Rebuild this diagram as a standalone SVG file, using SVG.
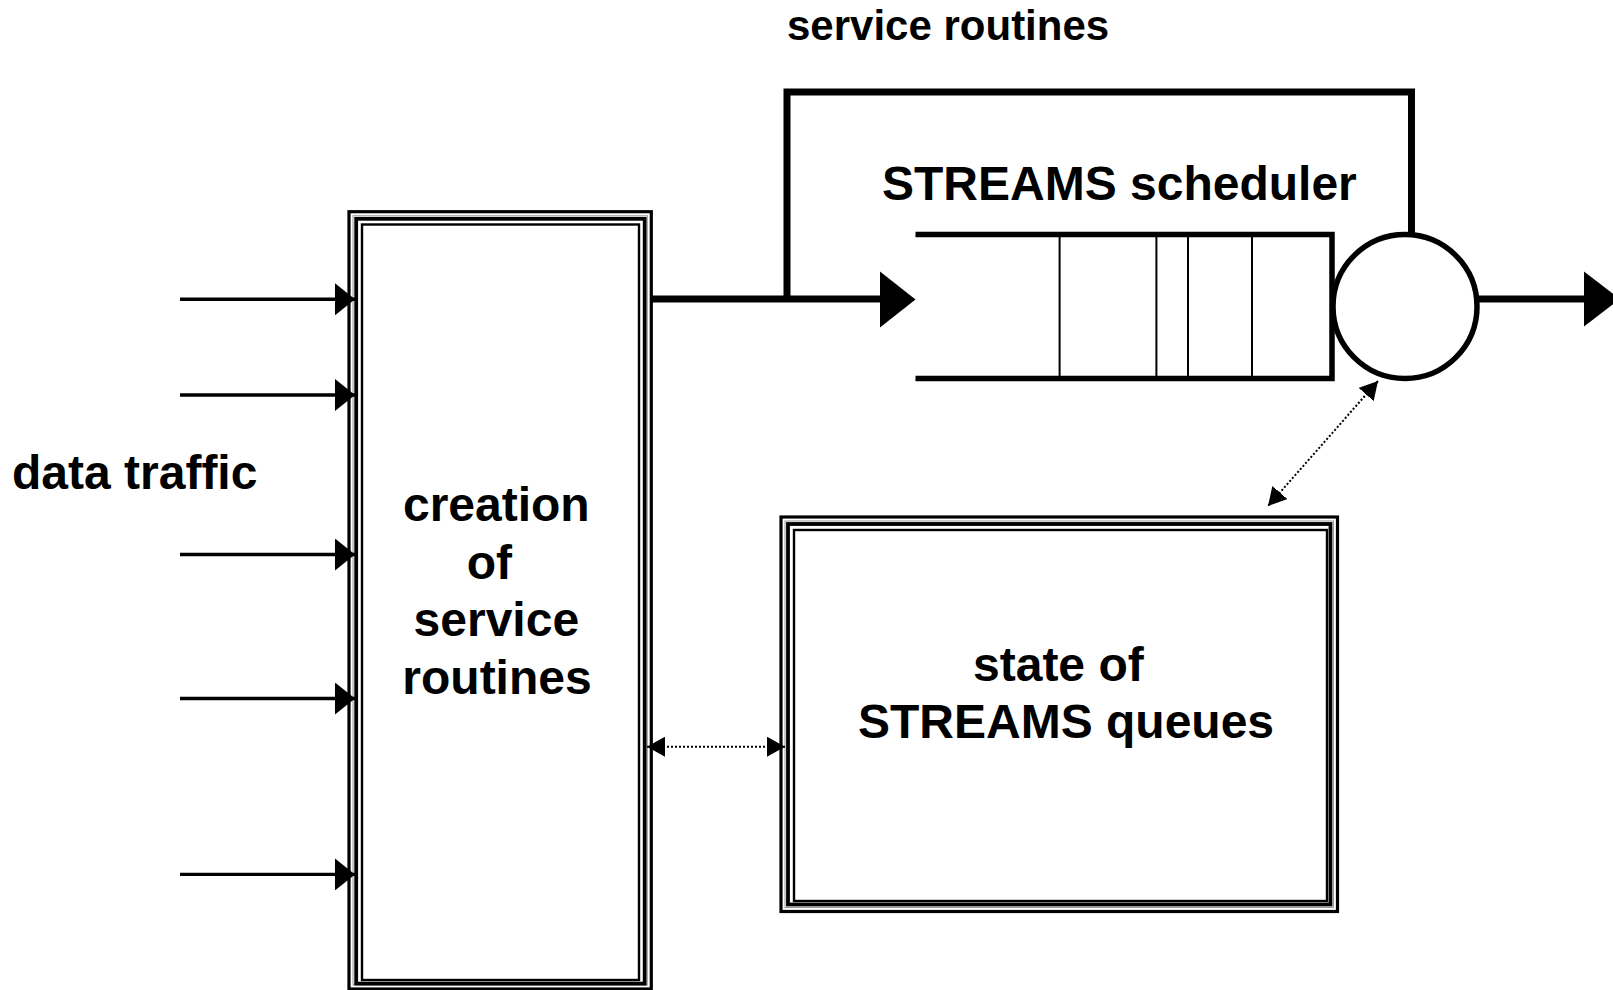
<svg xmlns="http://www.w3.org/2000/svg" width="1613" height="990" viewBox="0 0 1613 990">
  <style>
    .lbl { font-family: "Liberation Sans", Arial, Helvetica, sans-serif; font-weight: bold; fill: #000; }
    .big { font-size: 48px; }
    .mid { font-size: 42px; }
    .b-out { fill: none; stroke: #000; stroke-width: 3.2; }
    .b-gray { fill: none; stroke: #9a9a9a; stroke-width: 1; }
    .b-mid { fill: none; stroke: #000; stroke-width: 3.8; }
    .b-in { fill: none; stroke: #000; stroke-width: 2.4; }
    .thick { fill: none; stroke: #000; stroke-width: 7; }
    .input { fill: none; stroke: #000; stroke-width: 3.4; }
    .queue { fill: none; stroke: #000; stroke-width: 5.5; }
    .slot { fill: none; stroke: #000; stroke-width: 2; }
    .dots { fill: none; stroke: #000; stroke-width: 2; stroke-dasharray: 2 2; }
    .head { fill: #000; stroke: none; }
  </style>
  <defs>
    <marker id="small-head" viewBox="0 0 18 20" refX="18" refY="10" markerWidth="18" markerHeight="20" markerUnits="userSpaceOnUse" orient="auto-start-reverse">
      <path d="M0,0 L18,10 L0,20 Z" fill="#000"/>
    </marker>
    <marker id="in-head" viewBox="0 0 20 32" refX="20" refY="16" markerWidth="20" markerHeight="32" markerUnits="userSpaceOnUse" orient="auto">
      <path d="M0,0 L20,16 L0,32 Z" fill="#000"/>
    </marker>
  </defs>

  <rect width="1613" height="990" fill="#fff"/>

  <!-- free-standing labels -->
  <text class="lbl mid" x="787" y="40">service routines</text>
  <text class="lbl big" x="12" y="488.5">data traffic</text>

  <!-- node: creation of service routines -->
  <g id="creation">
    <rect class="b-out" x="349" y="211.7" width="302.3" height="777.3"/>
    <rect class="b-gray" x="353" y="215.7" width="294.3" height="769.3"/>
    <rect class="b-mid" x="356.2" y="218.8" width="288.5" height="764.8"/>
    <rect class="b-in" x="362" y="224.5" width="277" height="755.5"/>
    <text class="lbl big" text-anchor="middle">
      <tspan x="503" y="521">creation</tspan>
      <tspan x="496" y="578.5">of</tspan>
      <tspan x="503" y="636">service</tspan>
      <tspan x="497" y="693.5">routines</tspan>
    </text>
  </g>

  <!-- node: state of STREAMS queues -->
  <g id="queue-state">
    <rect class="b-out" x="781" y="517" width="556.5" height="394.5"/>
    <rect class="b-gray" x="785" y="521" width="548.5" height="386.5"/>
    <rect class="b-mid" x="788" y="524" width="542.5" height="380.5"/>
    <rect class="b-in" x="794" y="530" width="533" height="371"/>
    <text class="lbl big" x="973" y="681">state of</text>
    <text class="lbl big" x="858" y="738">STREAMS queues</text>
  </g>

  <!-- node: STREAMS scheduler (queue + server) -->
  <g id="scheduler">
    <text class="lbl big" x="882" y="200">STREAMS scheduler</text>
    <path class="queue" d="M915.5,234.5 H1332 V378.5 H915.5"/>
    <line class="slot" x1="1059.6" y1="234.5" x2="1059.6" y2="378.5"/>
    <line class="slot" x1="1156.4" y1="234.5" x2="1156.4" y2="378.5"/>
    <line class="slot" x1="1188" y1="234.5" x2="1188" y2="378.5"/>
    <line class="slot" x1="1252" y1="234.5" x2="1252" y2="378.5"/>
    <circle cx="1405" cy="306.5" r="72" fill="#fff" stroke="#000" stroke-width="5.5"/>
  </g>

  <!-- connectors -->
  <g id="connectors">
    <!-- incoming data traffic -->
    <line class="input" x1="180" y1="299.3" x2="355" y2="299.3" marker-end="url(#in-head)"/>
    <line class="input" x1="180" y1="395" x2="355" y2="395" marker-end="url(#in-head)"/>
    <line class="input" x1="180" y1="554.5" x2="355" y2="554.5" marker-end="url(#in-head)"/>
    <line class="input" x1="180" y1="698.5" x2="355" y2="698.5" marker-end="url(#in-head)"/>
    <line class="input" x1="180" y1="874.4" x2="355" y2="874.4" marker-end="url(#in-head)"/>

    <!-- service routines into the scheduler queue -->
    <line class="thick" x1="652" y1="299" x2="884" y2="299"/>
    <polygon class="head" points="880,271.5 915.5,299.5 880,327.5"/>

    <!-- feedback loop over the queue -->
    <path class="thick" d="M787,299 V92 H1411.5 V236"/>

    <!-- scheduler output -->
    <line class="thick" x1="1477" y1="299" x2="1588" y2="299"/>
    <polygon class="head" points="1584,271.5 1620,299 1584,326.5"/>

    <!-- dotted links to the queue state -->
    <line class="dots" x1="647" y1="746.7" x2="785" y2="746.7" marker-start="url(#small-head)" marker-end="url(#small-head)"/>
    <line class="dots" x1="1378" y1="381" x2="1268" y2="506" marker-start="url(#small-head)" marker-end="url(#small-head)"/>
  </g>
</svg>
